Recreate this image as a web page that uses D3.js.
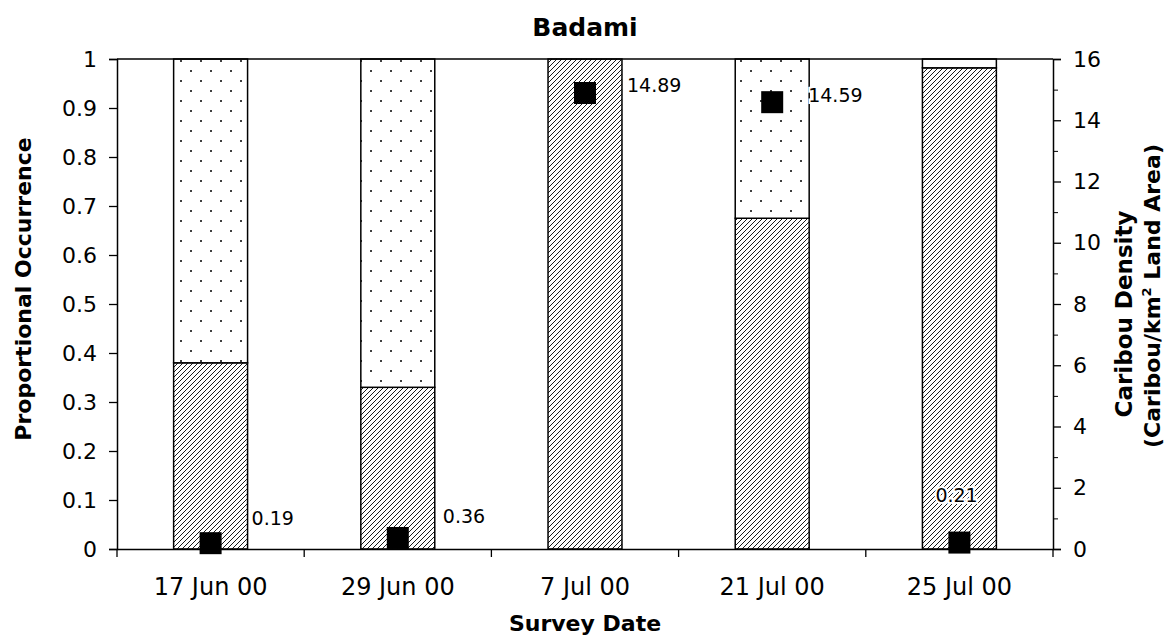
<!DOCTYPE html>
<html>
<head>
<meta charset="utf-8">
<script src="https://cdn.jsdelivr.net/npm/d3@7"></script>
<style>
  body { margin: 0; background: #fff; }
  svg text { font-family: "DejaVu Sans", Verdana, sans-serif; fill: #000; }
</style>
</head>
<body>
<svg id="chart"></svg>
<script>
// data
const dates = ["17 Jun 00", "29 Jun 00", "7 Jul 00", "21 Jul 00", "25 Jul 00"];
const hatched = [0.38, 0.33, 1.0, 0.675, 0.982];   // lower (hatched) share
const dotted = [0.62, 0.67, 0.0, 0.325, 0.0];      // upper (dotted) share
const blank = [0.0, 0.0, 0.0, 0.0, 0.018];         // remaining white share
const density = [0.19, 0.36, 14.89, 14.59, 0.21];  // caribou / km2
const densityLabels = ["0.19", "0.36", "14.89", "14.59", "0.21"];
const leftTicks = [0, 0.1, 0.2, 0.3, 0.4, 0.5, 0.6, 0.7, 0.8, 0.9, 1];
const rightTicks = [0, 2, 4, 6, 8, 10, 12, 14, 16];

const width = 1174, height = 640;
const margin = { top: 59, right: 121, bottom: 91, left: 117 };
const innerW = width - margin.left - margin.right;
const innerH = height - margin.top - margin.bottom;

const svg = d3.select("#chart").attr("width", width).attr("height", height);

// patterns
const defs = svg.append("defs");
const hatch = defs.append("pattern")
  .attr("id", "hatch").attr("patternUnits", "userSpaceOnUse")
  .attr("width", 5).attr("height", 5);
hatch.append("rect").attr("width", 5).attr("height", 5).attr("fill", "#fff");
hatch.append("path")
  .attr("d", "M-1,1 l2,-2 M0,5 l5,-5 M4,6 l2,-2")
  .attr("stroke", "#000").attr("stroke-width", 0.9);

const dots = defs.append("pattern")
  .attr("id", "dots").attr("patternUnits", "userSpaceOnUse")
  .attr("width", 20).attr("height", 20);
dots.append("rect").attr("width", 20).attr("height", 20).attr("fill", "#fff");
dots.append("circle").attr("cx", 4).attr("cy", 2).attr("r", 1).attr("fill", "#000");
dots.append("circle").attr("cx", 14).attr("cy", 12).attr("r", 1).attr("fill", "#000");

const g = svg.append("g").attr("transform", `translate(${margin.left},${margin.top})`);

const x = d3.scaleBand().domain(dates).range([0, innerW]).padding(0);
const yL = d3.scaleLinear().domain([0, 1]).range([innerH, 0]);
const yR = d3.scaleLinear().domain([0, 16]).range([innerH, 0]);
const barW = x.bandwidth() * 0.395;

// stacked segments
const rows = dates.map((d, i) => ({ date: d, hatched: hatched[i], dotted: dotted[i], blank: blank[i] }));
const stack = d3.stack().keys(["hatched", "dotted", "blank"])(rows);
const fills = { hatched: "url(#hatch)", dotted: "url(#dots)", blank: "#fff" };

stack.forEach(layer => {
  g.selectAll(null)
    .data(layer.filter(d => d[1] - d[0] > 0))
    .join("rect")
    .attr("x", d => x(d.data.date) + (x.bandwidth() - barW) / 2)
    .attr("y", d => yL(d[1]))
    .attr("width", barW)
    .attr("height", d => yL(d[0]) - yL(d[1]))
    .attr("fill", fills[layer.key])
    .attr("stroke", "#000")
    .attr("stroke-width", 1.5);
});

// frame top line
g.append("line")
  .attr("x1", 0).attr("x2", innerW).attr("y1", 0).attr("y2", 0)
  .attr("stroke", "#000").attr("stroke-width", 1.5);

// left axis
const axL = g.append("g")
  .call(d3.axisLeft(yL).tickValues(leftTicks).tickSize(8).tickPadding(12)
    .tickFormat(d => d === 0 || d === 1 ? d3.format("d")(d) : d3.format(".1f")(d)));
axL.selectAll("text").style("font-size", "22px");

// right axis, majors plus minor ticks
const axR = g.append("g").attr("transform", `translate(${innerW},0)`)
  .call(d3.axisRight(yR).tickValues(rightTicks).tickSize(8).tickPadding(12));
axR.selectAll("text").style("font-size", "22px");
g.append("g").attr("transform", `translate(${innerW},0)`)
  .call(d3.axisRight(yR).tickValues(d3.range(1, 16, 2)).tickSize(5).tickFormat(""))
  .select(".domain").remove();

[axL, axR].forEach(a => {
  a.select(".domain").attr("stroke-width", 1.5);
  a.selectAll(".tick line").attr("stroke-width", 1.3);
});

// bottom axis: ticks between categories, labels centred
const axB = g.append("g").attr("transform", `translate(0,${innerH})`)
  .call(d3.axisBottom(x).tickSize(0).tickPadding(29));
axB.select(".domain").attr("stroke-width", 1.5);
axB.selectAll("text").style("font-size", "24px");
g.append("g").attr("transform", `translate(0,${innerH})`)
  .selectAll("line")
  .data(dates.slice(1).concat(["end"]))
  .join("line")
  .attr("x1", d => d === "end" ? innerW : x(d))
  .attr("x2", d => d === "end" ? innerW : x(d))
  .attr("y1", 0).attr("y2", 8)
  .attr("stroke", "#000").attr("stroke-width", 1.3);
g.append("line")
  .attr("x1", 0).attr("x2", 0).attr("y1", innerH).attr("y2", innerH + 8)
  .attr("stroke", "#000").attr("stroke-width", 1.3);

// density markers
const sq = 22;
g.selectAll(".marker")
  .data(density)
  .join("rect")
  .attr("class", "marker")
  .attr("x", (d, i) => x(dates[i]) + x.bandwidth() / 2 - sq / 2)
  .attr("y", d => yR(d) - sq / 2)
  .attr("width", sq).attr("height", sq)
  .attr("fill", "#000");

// value labels (last one sits inside its bar, as in the figure)
const labelNudge = [[41, -25], [45, -22], [42, -8], [36, -7], [-24, -47]];
g.selectAll(".vlabel")
  .data(density)
  .join("text")
  .attr("class", "vlabel")
  .attr("x", (d, i) => x(dates[i]) + x.bandwidth() / 2 + labelNudge[i][0])
  .attr("y", (d, i) => yR(d) + labelNudge[i][1])
  .attr("dy", "0.35em")
  .style("font-size", "19px")
  .style("paint-order", "stroke")
  .attr("stroke", "#fff").attr("stroke-width", 4)
  .text((d, i) => densityLabels[i]);

// titles
svg.append("text")
  .attr("x", margin.left + innerW / 2).attr("y", 36)
  .attr("text-anchor", "middle")
  .style("font-size", "25px").style("font-weight", "bold")
  .text("Badami");

svg.append("text")
  .attr("x", margin.left + innerW / 2).attr("y", 631)
  .attr("text-anchor", "middle")
  .style("font-size", "22px").style("font-weight", "bold")
  .text("Survey Date");

svg.append("text")
  .attr("transform", "translate(31,289) rotate(-90)")
  .attr("text-anchor", "middle")
  .style("font-size", "22px").style("font-weight", "bold")
  .text("Proportional Occurrence");

svg.append("text")
  .attr("transform", "translate(1132,314) rotate(-90)")
  .attr("text-anchor", "middle")
  .style("font-size", "23px").style("font-weight", "bold")
  .text("Caribou Density");

const l2 = svg.append("text")
  .attr("transform", "translate(1160,296) rotate(-90)")
  .attr("text-anchor", "middle")
  .style("font-size", "22px").style("font-weight", "bold");
l2.append("tspan").text("(Caribou/km");
l2.append("tspan").attr("dy", -9).style("font-size", "13px").text("2");
l2.append("tspan").attr("dy", 9).text(" Land Area)");
</script>
</body>
</html>
